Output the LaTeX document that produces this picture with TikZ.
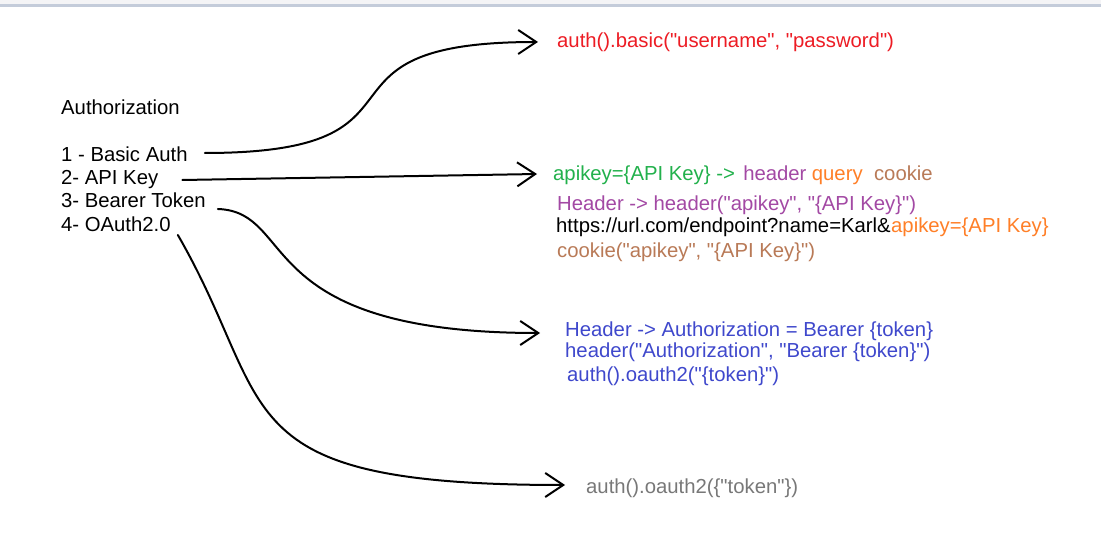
\documentclass[tikz,border=0pt]{standalone}
\usepackage{fontspec}
\setmainfont{Liberation Sans}[Ligatures=TeXOff]
\usepackage{tikz}
\usetikzlibrary{
	positioning,
	arrows.meta
}

\definecolor{pRed}{RGB}{237,28,36}
\definecolor{pGreen}{RGB}{34,177,76}
\definecolor{pPurple}{RGB}{163,73,164}
\definecolor{pOrange}{RGB}{255,127,39}
\definecolor{pBrown}{RGB}{185,122,87}
\definecolor{pBlue}{RGB}{63,72,204}
\definecolor{pGray}{RGB}{120,120,120}
\definecolor{barTop}{RGB}{244,244,246}
\definecolor{barBlue}{RGB}{196,204,218}

\begin{document}
\begin{tikzpicture}[
    x=1pt, y=1pt,
    txt/.style={inner sep=0pt, anchor=base west, font=\fontsize{20.3}{24}\selectfont},
    arr/.style={-{Straight Barb[length=18pt,width=24pt]}, line width=2pt, line cap=round, line join=round},
    node distance=8pt
]
    \useasboundingbox (0,0) rectangle (1101,-553);
    \fill[white] (0,0) rectangle (1101,-553);
    \fill[barTop] (0,0) rectangle (1101,-4);
    \fill[barBlue] (0,-4) rectangle (1101,-7);

    \draw
        node [txt] (title) at (61,-115) {Authorization}
        node [txt] (basic) at (61,-162) {1 - Basic Auth}
        node [txt] (apikey) at (61,-185) {2- API Key}
        node [txt] (bearer) at (61,-208) {3- Bearer Token}
        node [txt] (oauth) at (61,-232) {4- OAuth2.0}

        node [txt,pRed] (basicfn) at (557,-48) {auth().basic("username", "password")}

        node [txt,pGreen] (keyfmt) at (553,-181) {apikey=\{API Key\} ->}
        node [txt,pPurple,base right=of keyfmt] (inheader) {header}
        node [txt,pOrange,base right=5pt of inheader] (inquery) {query}
        node [txt,pBrown,base right=11pt of inquery] (incookie) {cookie}
        node [txt,pPurple] (keyhdr) at (557,-211) {Header -> header("apikey", "\{API Key\}")}
        node [txt] (keyurl) at (556,-233) {https://url.com/endpoint?name=Karl\&}
        node [txt,pOrange,base right=0pt of keyurl] (keyurlq) {apikey=\{API Key\}}
        node [txt,pBrown] (keycookie) at (557,-258) {cookie("apikey", "\{API Key\}")}

        node [txt,pBlue] (bhdr) at (565,-337) {Header -> Authorization = Bearer \{token\}}
        node [txt,pBlue] (bfn) at (565,-358) {header("Authorization", "Bearer \{token\}")}
        node [txt,pBlue] (bauth) at (567,-382) {auth().oauth2("\{token\}")}

        node [txt,pGray] (oauthfn) at (586,-493) {auth().oauth2(\{"token"\})}

        ([shift={(17,9)}]basic.base east) edge[arr,out=0,in=180,out distance=247pt,in distance=247pt] ([shift={(-19,6)}]basicfn.base west)
        ([shift={(24,5)}]apikey.base east) edge[arr] ([shift={(-16,7)}]keyfmt.base west)
        ([shift={(12,-1)}]bearer.base east) edge[arr,out=-2,in=180,out distance=80pt,in distance=290pt] ([shift={(-25,4)}]bhdr.base west)
        ([shift={(7,-3)}]oauth.base east) edge[arr,out=-60,in=180,out distance=200pt,in distance=345pt] ([shift={(-21,8)}]oauthfn.base west)
    ;
\end{tikzpicture}
\end{document}
